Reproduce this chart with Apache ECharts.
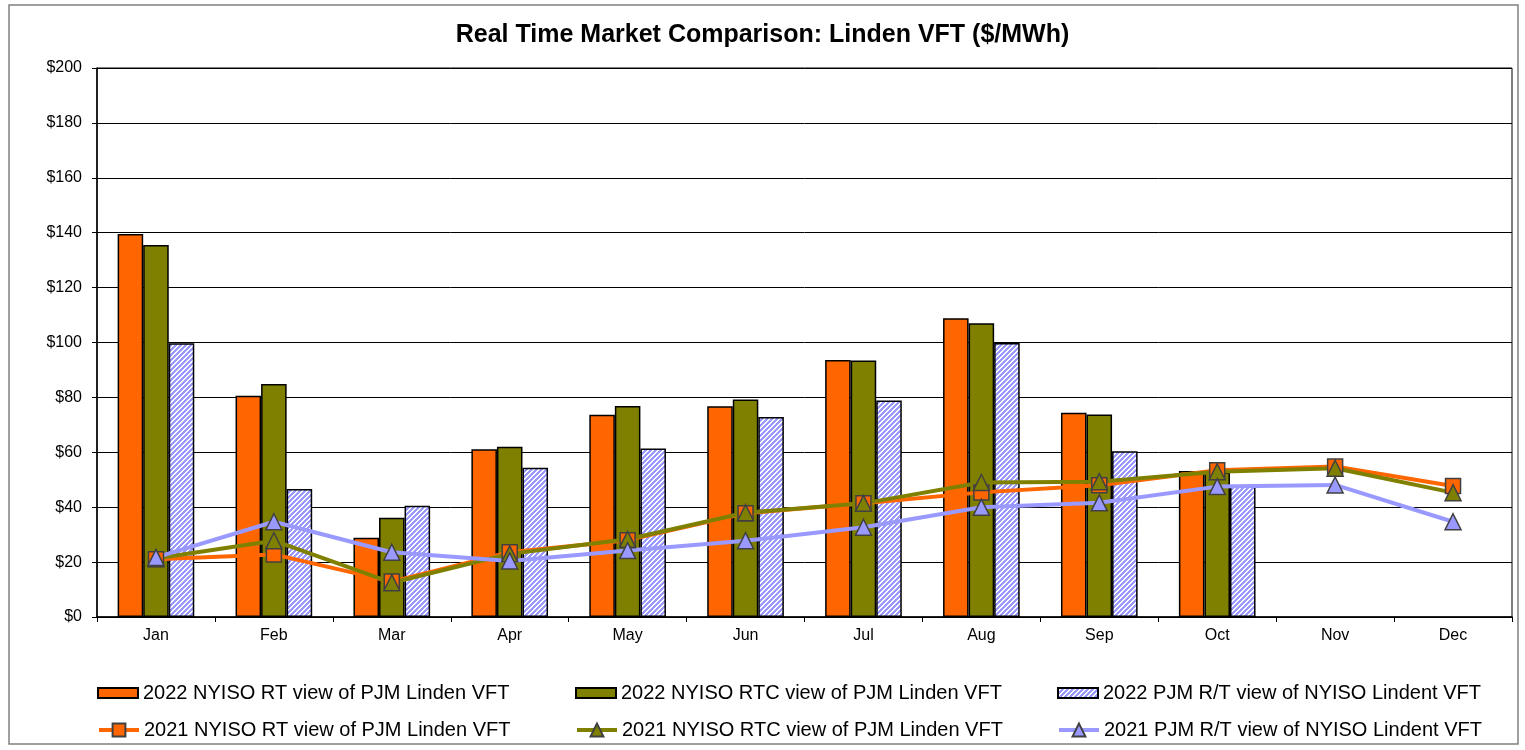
<!DOCTYPE html>
<html>
<head>
<meta charset="utf-8">
<title>Real Time Market Comparison: Linden VFT</title>
<script src="https://cdn.jsdelivr.net/npm/echarts@6/dist/echarts.min.js"></script>
<style>
  html, body { margin: 0; padding: 0; background: #fff; }
  #chart { width: 1525px; height: 750px; }
</style>
</head>
<body>
<div id="chart"></div>
<script>
// categories
var months = ['Jan', 'Feb', 'Mar', 'Apr', 'May', 'Jun', 'Jul', 'Aug', 'Sep', 'Oct', 'Nov', 'Dec']

// 2022 bars ($/MWh), no data yet for Nov / Dec
var rt2022 = [139.5, 80.6, 28.9, 61.1, 73.7, 76.8, 93.6, 108.8, 74.4, 53.2, null, null]
var rtc2022 = [135.5, 84.9, 36.2, 62.0, 76.9, 79.2, 93.4, 107.0, 73.8, 52.6, null, null]
var pjm2022 = [99.7, 46.6, 40.5, 54.4, 61.4, 72.9, 78.9, 99.8, 60.4, 47.5, null, null]

// 2021 lines ($/MWh)
var rt2021 = [21.0, 22.8, 12.9, 23.6, 28.0, 37.8, 41.4, 45.4, 48.0, 53.5, 54.8, 47.7]
var rtc2021 = [21.3, 27.8, 12.5, 23.0, 28.3, 38.0, 41.4, 49.0, 49.3, 52.9, 54.2, 45.3]
var pjm2021 = [21.7, 34.7, 23.6, 20.4, 24.2, 27.8, 32.7, 40.0, 41.6, 47.5, 48.1, 34.7]

// y axis ticks
var yMin = 0
var yMax = 200
var yStep = 20

var names = [
  '2022 NYISO RT view of PJM Linden VFT',
  '2022 NYISO RTC view of PJM Linden VFT',
  '2022 PJM R/T view of NYISO Lindent VFT',
  '2021 NYISO RT view of PJM Linden VFT',
  '2021 NYISO RTC view of PJM Linden VFT',
  '2021 PJM R/T view of NYISO Lindent VFT'
]

// blue diagonal hatch for the PJM bars
function hatch () {
  var n = 5
  var c = document.createElement('canvas')
  c.width = n
  c.height = n
  var g = c.getContext('2d')
  g.fillStyle = '#ffffff'
  g.fillRect(0, 0, n, n)
  g.fillStyle = '#9999ff'
  for (var x = 0; x < n; x++) {
    for (var k = 0; k < 3; k++) {
      g.fillRect(x, (n - 1 - x + k) % n, 1, 1)
    }
  }
  return c
}

var font = 'Liberation Sans, Arial, sans-serif'

function legendAt (name, left, top, isBar) {
  return {
    data: [name],
    left: left,
    top: top,
    itemWidth: 40,
    itemHeight: isBar ? 10 : 16,
    icon: isBar ? 'rect' : undefined,
    selectedMode: false,
    padding: 0,
    lineStyle: { width: 4 },
    textStyle: { fontFamily: font, fontSize: 20, color: '#000' }
  }
}

function barSeries (name, data, color) {
  return {
    name: name,
    type: 'bar',
    data: data,
    barGap: '0%',
    barCategoryGap: '35%',
    itemStyle: { color: color, borderColor: '#000', borderWidth: 1.5 }
  }
}

function lineSeries (name, data, color, symbol, size) {
  return {
    name: name,
    type: 'line',
    data: data,
    symbol: symbol,
    symbolSize: size,
    lineStyle: { color: color, width: 4 },
    itemStyle: { color: color, borderColor: '#404040', borderWidth: 1.5 },
    z: 3
  }
}

var myChart = echarts.init(document.getElementById('chart'))
var option = {
  backgroundColor: '#fff',
  animation: false,
  title: {
    text: 'Real Time Market Comparison: Linden VFT ($/MWh)',
    left: 'center',
    top: 18,
    textStyle: { fontFamily: font, fontSize: 25, fontWeight: 'bold', color: '#000' }
  },
  graphic: [
    {
      type: 'rect',
      shape: { x: 9, y: 5, width: 1509, height: 739 },
      style: { fill: 'none', stroke: '#808080', lineWidth: 1.5 },
      silent: true
    }
  ],
  legend: [
    legendAt(names[0], 97, 683, true),
    legendAt(names[1], 575, 683, true),
    legendAt(names[2], 1057, 683, true),
    legendAt(names[3], 97, 720, false),
    legendAt(names[4], 575, 720, false),
    legendAt(names[5], 1057, 720, false)
  ],
  grid: {
    left: 97,
    right: 13,
    top: 68,
    bottom: 133,
    show: true,
    borderColor: '#000',
    borderWidth: 1
  },
  xAxis: {
    type: 'category',
    data: months,
    axisLine: { lineStyle: { color: '#000', width: 1.5 } },
    axisTick: { show: true, length: 5, lineStyle: { color: '#000' } },
    axisLabel: { margin: 11, color: '#000', fontFamily: font, fontSize: 16 }
  },
  yAxis: {
    type: 'value',
    min: yMin,
    max: yMax,
    interval: yStep,
    axisLine: { show: true, lineStyle: { color: '#000', width: 1.5 } },
    axisTick: { show: true, length: 5, lineStyle: { color: '#000' } },
    axisLabel: {
      margin: 15,
      color: '#000',
      fontFamily: font,
      fontSize: 16,
      formatter: function (v) { return '$' + v }
    },
    splitLine: { lineStyle: { color: '#000', width: 1 } }
  },
  series: [
    barSeries(names[0], rt2022, '#ff6600'),
    barSeries(names[1], rtc2022, '#808000'),
    barSeries(names[2], pjm2022, { image: hatch(), repeat: 'repeat' }),
    lineSeries(names[3], rt2021, '#ff6600', 'rect', 15),
    lineSeries(names[4], rtc2021, '#808000', 'triangle', 16),
    lineSeries(names[5], pjm2021, '#9999ff', 'triangle', 16)
  ]
}
option && myChart.setOption(option)
</script>
</body>
</html>
